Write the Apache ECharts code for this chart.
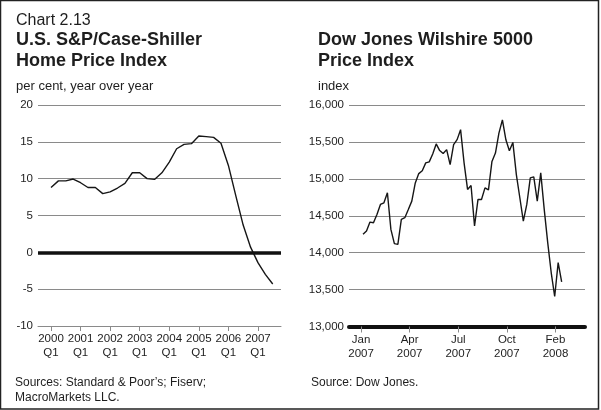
<!DOCTYPE html>
<html><head><meta charset="utf-8">
<script src="https://cdn.jsdelivr.net/npm/echarts@6/dist/echarts.min.js"></script>
<style>html,body{margin:0;padding:0;background:#fff}#c{width:601px;height:410px}</style>
</head><body><div id="c"></div>
<script>
// Left: S&P/Case-Shiller, per cent year over year, quarterly from 2000 Q1 (index 0) to 2007 Q3
const caseShiller = [8.8, 9.7, 9.7, 9.95, 9.45, 8.8, 8.8, 7.97, 8.2, 8.73, 9.36, 10.8, 10.8, 10.0, 9.9, 10.8,
  12.25, 14.06, 14.65, 14.75, 15.8, 15.7, 15.6, 14.8, 11.8, 7.7, 3.7, 0.7, -1.4, -3.0, -4.3];
const csTickQuarters = [0, 4, 8, 12, 16, 20, 24, 28];
const csTickLabels = ['2000\nQ1','2001\nQ1','2002\nQ1','2003\nQ1','2004\nQ1','2005\nQ1','2006\nQ1','2007\nQ1'];
// Right: Dow Jones Wilshire 5000, weekly from early Jan 2007 (week 0) to early Feb 2008
const wilshire = [14248, 14293, 14414, 14405, 14518, 14653, 14676, 14811, 14315, 14122, 14113, 14450, 14473, 14585,
  14698, 14945, 15071, 15110, 15216, 15230, 15337, 15473, 15383, 15342, 15396, 15193, 15463, 15531, 15666, 15216,
  14856, 14910, 14361, 14721, 14721, 14878, 14850, 15236, 15349, 15619, 15799, 15529, 15380, 15493, 15058, 14744,
  14428, 14653, 15013, 15027, 14698, 15081, 14586, 14136, 13731, 13406, 13865, 13604];
const wsTickWeeks = [-0.57, 13.38, 27.33, 41.28, 55.23];
const wsTickLabels = ['Jan\n2007','Apr\n2007','Jul\n2007','Oct\n2007','Feb\n2008'];

const FONT = "'Liberation Sans', Arial, Helvetica, sans-serif";
const GRID = '#8a8a8a';
const TXT = '#1e1e1e';
function lookup(vals, labels){ return v => { const i = vals.findIndex(t => Math.abs(t - v) < 1e-6); return i >= 0 ? labels[i] : ''; }; }

const chart = echarts.init(document.getElementById('c'), null, {renderer:'canvas'});
const labelStyle = {color: TXT, fontFamily: FONT, fontSize: 11.5};
chart.setOption({
  animation: false,
  backgroundColor: '#fff',
  grid: [
    {left: 38, top: 105, width: 243, height: 221},
    {left: 349, top: 105, width: 236, height: 221.5}
  ],
  xAxis: [
    {gridIndex: 0, type: 'value', min: -1.76, max: 31.12,
     axisLine: {show: true, onZero: false, lineStyle: {color: GRID, width: 1}},
     axisTick: {show: true, length: 5, lineStyle: {color: GRID}, customValues: csTickQuarters},
     axisLabel: Object.assign({customValues: csTickQuarters, formatter: lookup(csTickQuarters, csTickLabels), margin: 6, lineHeight: 14}, labelStyle),
     splitLine: {show: false}},
    {gridIndex: 1, type: 'value', min: -4.02, max: 63.7,
     axisLine: {show: true, onZero: false, lineStyle: {color: '#111', width: 4}},
     axisTick: {show: true, length: 6, lineStyle: {color: GRID}, customValues: wsTickWeeks},
     axisLabel: Object.assign({customValues: wsTickWeeks, formatter: lookup(wsTickWeeks, wsTickLabels), margin: 6, lineHeight: 14}, labelStyle),
     splitLine: {show: false}}
  ],
  yAxis: [
    {gridIndex: 0, type: 'value', min: -10, max: 20, interval: 5,
     axisLine: {show: false}, axisTick: {show: false},
     axisLabel: Object.assign({margin: 5}, labelStyle),
     splitLine: {show: true, lineStyle: {color: GRID, width: 1}}},
    {gridIndex: 1, type: 'value', min: 13000, max: 16000, interval: 500,
     axisLine: {show: false}, axisTick: {show: false},
     axisLabel: Object.assign({margin: 5, formatter: v => v.toLocaleString('en-US')}, labelStyle),
     splitLine: {show: true, lineStyle: {color: GRID, width: 1}}}
  ],
  series: [
    {type: 'line', xAxisIndex: 0, yAxisIndex: 0, data: caseShiller.map((v, i) => [i, v]),
     showSymbol: false, lineStyle: {color: '#161616', width: 1.4},
     markLine: {silent: true, symbol: 'none', label: {show: false},
       lineStyle: {color: '#111', width: 3.5, type: 'solid'}, data: [{yAxis: 0}]}},
    {type: 'line', xAxisIndex: 1, yAxisIndex: 1, data: wilshire.map((v, i) => [i, v]),
     showSymbol: false, lineStyle: {color: '#161616', width: 1.4}}
  ],
  graphic: [
    {type: 'rect', shape: {x: 0.5, y: 0.5, width: 598, height: 408.5}, style: {fill: 'none', stroke: '#222', lineWidth: 1.5}, silent: true},
    {type: 'text', x: 16, y: 20.5, style: {text: 'Chart 2.13', font: `16px ${FONT}`, fill: TXT, verticalAlign: 'middle'}},
    {type: 'text', x: 16, y: 40.5, style: {text: 'U.S. S&P/Case-Shiller', font: `bold 18px ${FONT}`, fill: TXT, verticalAlign: 'middle'}},
    {type: 'text', x: 16, y: 61.5, style: {text: 'Home Price Index', font: `bold 18px ${FONT}`, fill: TXT, verticalAlign: 'middle'}},
    {type: 'text', x: 16, y: 86.5, style: {text: 'per cent, year over year', font: `13px ${FONT}`, fill: TXT, verticalAlign: 'middle'}},
    {type: 'text', x: 318, y: 40.5, style: {text: 'Dow Jones Wilshire 5000', font: `bold 18px ${FONT}`, fill: TXT, verticalAlign: 'middle'}},
    {type: 'text', x: 318, y: 61.5, style: {text: 'Price Index', font: `bold 18px ${FONT}`, fill: TXT, verticalAlign: 'middle'}},
    {type: 'text', x: 318, y: 86.5, style: {text: 'index', font: `13px ${FONT}`, fill: TXT, verticalAlign: 'middle'}},
    {type: 'text', x: 15, y: 383, style: {text: 'Sources: Standard & Poor’s; Fiserv;', font: `12px ${FONT}`, fill: TXT, verticalAlign: 'middle'}},
    {type: 'text', x: 15, y: 397.5, style: {text: 'MacroMarkets LLC.', font: `12px ${FONT}`, fill: TXT, verticalAlign: 'middle'}},
    {type: 'text', x: 311, y: 383, style: {text: 'Source: Dow Jones.', font: `12px ${FONT}`, fill: TXT, verticalAlign: 'middle'}}
  ]
});
</script></body></html>
